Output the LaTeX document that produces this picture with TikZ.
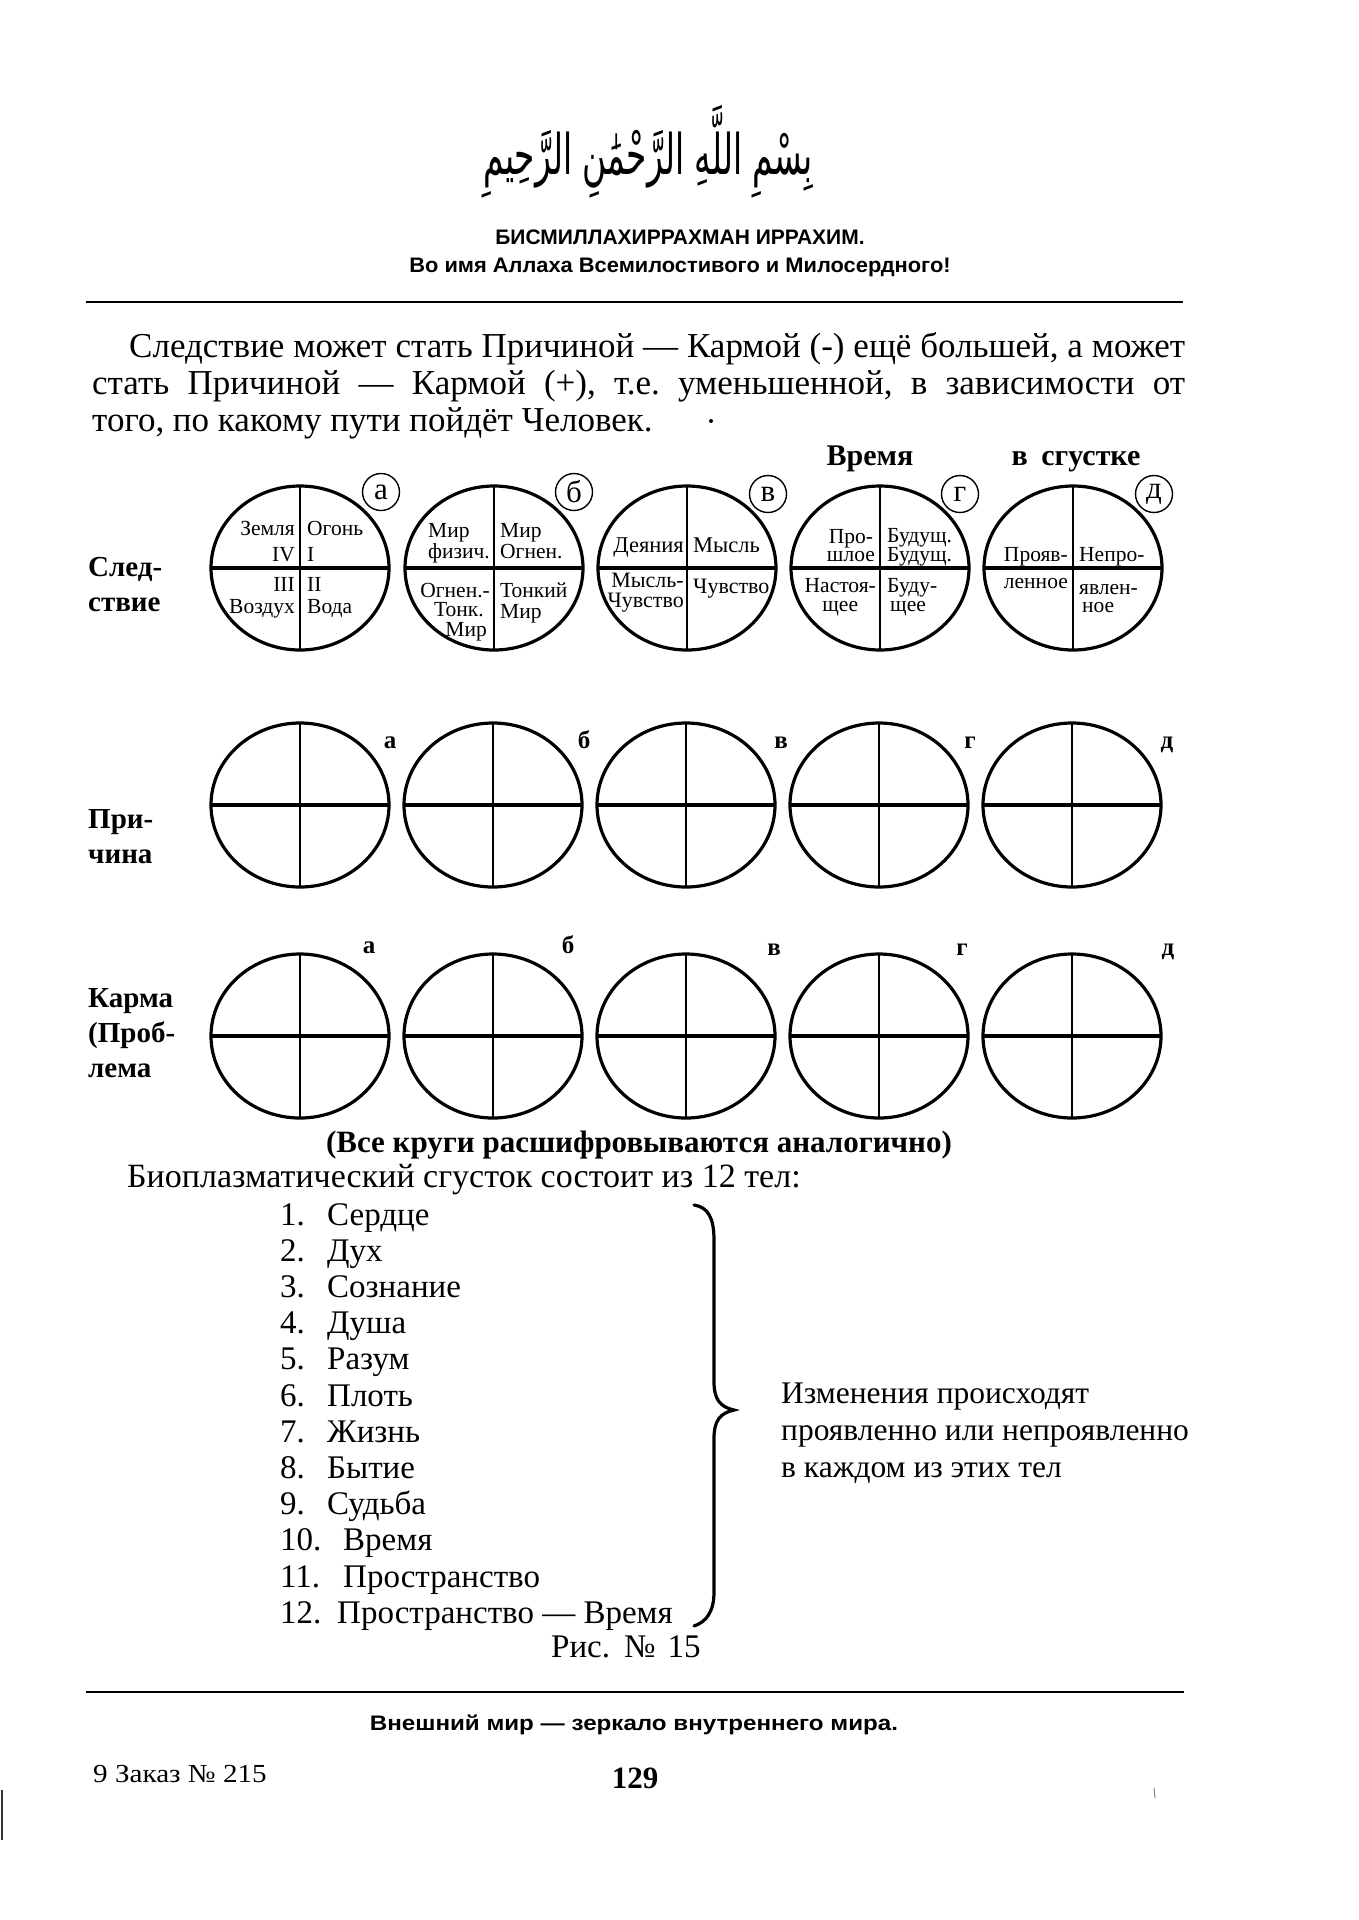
\documentclass[tikz,border=0pt]{standalone}
\usepackage{fontspec}
\setmainfont{Liberation Serif}
\newfontfamily\hsans{Liberation Sans}
\newfontfamily\arabicfont[Script=Arabic]{DejaVu Sans}
\TeXXeTstate=1
\frenchspacing
\newcommand\fsz[2]{\fontsize{#1}{#2}\selectfont}
\newcommand\mlines[2]{\begin{tabular}[t]{@{}#1@{}}#2\end{tabular}}
\newcommand\qcirc[2]{%
  \draw[ring] (#1,#2) ellipse [x radius=89pt, y radius=82pt];
  \draw[vbar] (#1,#2-82) -- (#1,#2+82);
  \draw[hbar] (#1-89,#2) -- (#1+89,#2);}
\begin{document}
\begin{tikzpicture}[x=1pt,y=-1pt,
  ring/.style={line width=3.2pt},
  vbar/.style={line width=2.8pt},
  hbar/.style={line width=3.6pt},
  ct/.style={inner sep=0pt,font=\fsz{21.5}{23}},
  rowlab/.style={inner sep=0pt,anchor=base west,font=\bfseries\fsz{29}{34}},
  lett/.style={inner sep=0pt,anchor=base,font=\bfseries\fsz{25}{25}},
  cl/.style={circle,draw,line width=1.4pt,minimum size=37pt,inner sep=0pt,font=\fsz{31}{31}},
  body/.style={inner sep=0pt,anchor=base west,font=\fsz{35}{37}},
  lst/.style={inner sep=0pt,anchor=base west,font=\fsz{33}{36}},
  hdr/.style={inner sep=0pt,anchor=base,font=\hsans\bfseries\fsz{21}{24}},
  rulel/.style={line width=2.5pt}]
\fill[white] (0,0) rectangle (1359,1920);
\useasboundingbox (0,0) rectangle (1359,1920);

% header
\node[inner sep=0pt] (bism) at (648,152) {\scalebox{0.82}[1.4]{\arabicfont\fsz{40}{40}\beginR بِسْمِ اللَّهِ الرَّحْمَٰنِ الرَّحِيمِ\endR}};
\node[hdr] (t1) at (680,244) {БИСМИЛЛАХИРРАХМАН ИРРАХИМ.};
\node[hdr] (t2) at (680,272) {\scalebox{1.04}[1]{Во имя Аллаха Всемилостивого и Милосердного!}};
\draw[rulel] (86,302) -- (1183,302);

% paragraph
\node[body] (p1) at (129,357) {\makebox[1056pt][s]{Следствие может стать Причиной — Кармой (-) ещё большей, а может}};
\node[body] (p2) at (92,394) {\makebox[1093pt][s]{стать Причиной — Кармой (+), т.е. уменьшенной, в зависимости от}};
\node[body] (p3) at (92,431) {того, по какому пути пойдёт Человек.};
\fill (711,421) circle (2pt);

\node[inner sep=0pt,anchor=base,font=\bfseries\fsz{30}{30}] (vr) at (870,465) {Время};
\node[inner sep=0pt,anchor=base,font=\bfseries\fsz{30}{30}] (vs) at (1076,465) {в\hspace{6pt} сгустке};

% row labels
\node[rowlab] (l1a) at (88,576) {След-};
\node[rowlab] (l1b) at (88,611) {ствие};
\node[rowlab] (l2a) at (88,828) {При-};
\node[rowlab] (l2b) at (88,863) {чина};
\node[rowlab] (l3a) at (88,1007) {Карма};
\node[rowlab] (l3b) at (88,1042) {(Проб-};
\node[rowlab] (l3c) at (88,1077) {лема};

% circles
\foreach \cx in {300,494,687,880,1073} {\qcirc{\cx}{568}}
\foreach \cx in {300,493,686,879,1072} {\qcirc{\cx}{805}}
\foreach \cx in {300,493,686,879,1072} {\qcirc{\cx}{1036}}

% circled letters row 1
\node[cl] (ca) at (381,492) {а};
\node[cl] (cb) at (574,492) {б};
\node[cl] (cv) at (768,494) {в};
\node[cl] (cg) at (960,494) {г};
\node[cl] (cd) at (1154,494) {д};

% circle a texts
\node[ct,anchor=base east] (a1) at (295,535) {\fsz{21.5}{26}\mlines{r}{Земля\\IV}};
\node[ct,anchor=base west] (a2) at (307,535) {\fsz{21.5}{26}\mlines{l}{Огонь\\I}};
\node[ct,anchor=base east] (a3) at (295,591) {\fsz{21.5}{22}\mlines{r}{III\\Воздух}};
\node[ct,anchor=base west] (a4) at (307,591) {\fsz{21.5}{22}\mlines{l}{II\\Вода}};
% circle b
\node[ct,anchor=base east] (b1) at (490,537) {\fsz{21.5}{21}\mlines{l}{Мир\\физич.}};
\node[ct,anchor=base west] (b2) at (500,537) {\fsz{21.5}{21}\mlines{l}{Мир\\Огнен.}};
\node[ct,anchor=base east] (b3) at (490,597) {\fsz{21.5}{19}\mlines{r}{Огнен.-\\Тонк.\hspace*{6pt}\\Мир\hspace*{3pt}}};
\node[ct,anchor=base west] (b4) at (500,597) {\fsz{21.5}{21}\mlines{l}{Тонкий\\Мир}};
% circle c
\node[ct,anchor=base east,font=\fsz{22.5}{23}] (c1) at (684,552) {Деяния};
\node[ct,anchor=base west,font=\fsz{22.5}{23}] (c2) at (693,552) {Мысль};
\node[ct,anchor=base east] (c3) at (684,587) {\fsz{22}{19}\mlines{r}{Мысль-\\Чувство}};
\node[ct,anchor=base west,font=\fsz{22}{23}] (c4) at (693,593) {Чувство};
% circle d
\node[ct,anchor=base east] (d1) at (875,543) {\fsz{21.5}{18}\mlines{c}{Про-\\шлое}};
\node[ct,anchor=base west] (d2) at (887,542) {\fsz{21.5}{17}\mlines{l}{Будущ.\\Будущ.}};
\node[ct,anchor=base east] (d3) at (876,592) {\fsz{21.5}{19}\mlines{c}{Настоя-\\щее}};
\node[ct,anchor=base west] (d4) at (887,592) {\fsz{21.5}{19}\mlines{l}{Буду-\\\hspace*{3pt}щее}};
% circle e
\node[ct,anchor=base east] (e1) at (1068,561) {Прояв-};
\node[ct,anchor=base west] (e2) at (1079,561) {Непро-};
\node[ct,anchor=base east] (e3) at (1068,588) {ленное};
\node[ct,anchor=base west] (e4) at (1079,594) {\fsz{21.5}{18}\mlines{l}{явлен-\\\hspace*{3pt}ное}};

% row 2 letters
\node[lett] (r2a) at (390,748) {а};
\node[lett] (r2b) at (584,748) {б};
\node[lett] (r2v) at (781,748) {в};
\node[lett] (r2g) at (970,748) {г};
\node[lett] (r2d) at (1167,748) {д};
% row 3 letters
\node[lett] (r3a) at (369,953) {а};
\node[lett] (r3b) at (568,953) {б};
\node[lett] (r3v) at (774,955) {в};
\node[lett] (r3g) at (962,955) {г};
\node[lett] (r3d) at (1168,955) {д};

\node[inner sep=0pt,anchor=base,font=\bfseries\fsz{31}{31}] (all) at (639,1152) {(Все круги расшифровываются аналогично)};
\node[lst,font=\fsz{34}{36}] (bio) at (127,1187) {Биоплазматический сгусток состоит из 12 тел:};

% list
\foreach \n/\t/\tx [count=\i from 0] in {1./Сердце/327,2./Дух/327,3./Сознание/327,4./Душа/327,5./Разум/327,6./Плоть/327,7./Жизнь/327,8./Бытие/327,9./Судьба/327,10./Время/343,11./Пространство/343,12./Пространство — Время/337}{
  \node[lst] (num\i) at (280,1225+36.2*\i) {\n};
  \node[lst] (item\i) at (\tx,1225+36.2*\i) {\t};
}
\draw[line width=3.2pt,line cap=round] (694,1205) .. controls (708,1207) and (714,1218) .. (714,1240) -- (714,1382) .. controls (714,1399) and (720,1407) .. (734,1410) .. controls (720,1413) and (714,1421) .. (714,1438) -- (714,1592) .. controls (714,1612) and (706,1622) .. (694,1626);
\node[lst,font=\fsz{31.5}{37}] (chg) at (781,1403) {\mlines{l}{Изменения происходят\\проявленно или непроявленно\\в каждом из этих тел}};
\node[lst] (fig) at (551,1657) {Рис.\hspace{14pt}№\hspace{12pt}15};

% footer
\draw[rulel] (86,1692) -- (1184,1692);
\node[hdr] (foot) at (634,1730) {\scalebox{1.15}[1]{Внешний мир — зеркало внутреннего мира.}};
\node[inner sep=0pt,anchor=base west,font=\fsz{26}{26}] (zak) at (93,1782) {\scalebox{1.12}[1]{9 Заказ № 215}};
\node[inner sep=0pt,anchor=base,font=\bfseries\fsz{31}{31}] (pg) at (635,1788) {129};
\draw[gray,line width=1pt] (1154,1788) -- (1155,1798);
\draw[black!80,line width=2.5pt] (2,1790) -- (2,1840);
\end{tikzpicture}
\end{document}
